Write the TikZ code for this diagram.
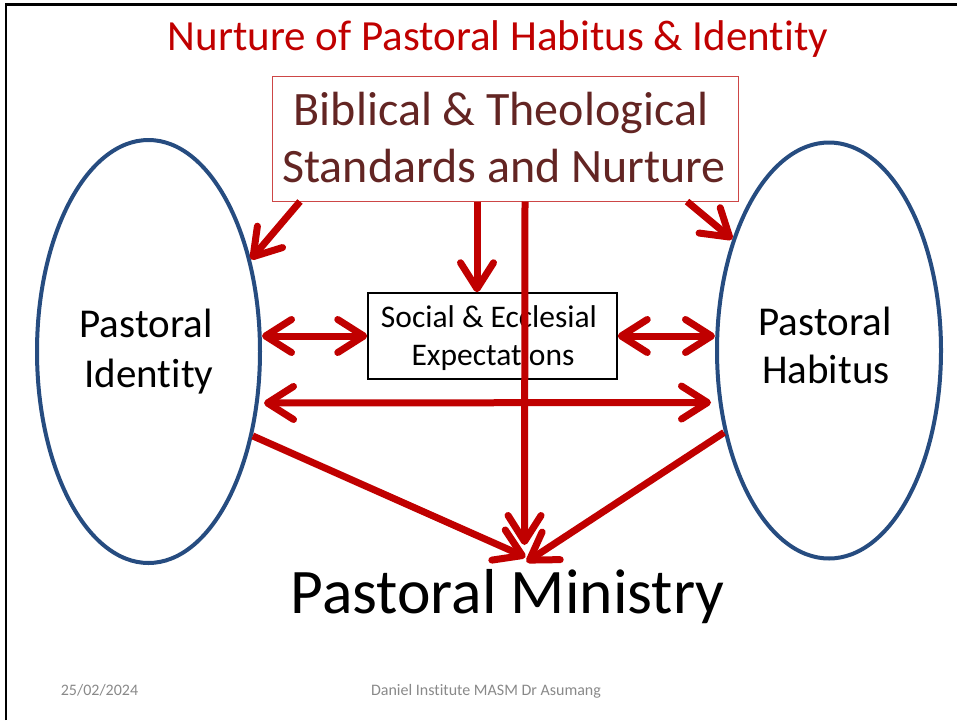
\documentclass[tikz,border=0pt]{standalone}
\usepackage{fontspec}
\setmainfont{Carlito}[Ligatures=NoCommon]
\usetikzlibrary{arrows.meta,shapes.geometric}
\definecolor{arrred}{RGB}{192,0,0}
\definecolor{titred}{RGB}{192,0,0}
\definecolor{boxred}{RGB}{205,70,70}
\definecolor{bibtext}{RGB}{99,37,35}
\definecolor{ellblue}{RGB}{38,76,128}
\definecolor{footgray}{RGB}{137,137,137}
\begin{document}
\begin{tikzpicture}[x=1pt,y=-1pt,
  txt/.style={inner sep=0pt, anchor=base},
  tip/.tip={Straight Barb[length=26pt,width=33pt,round]},
  arr/.style={draw=arrred, line width=7pt, -tip},
  dbl/.style={draw=arrred, line width=7pt, tip-tip},
  ell/.style={ellipse, draw=ellblue, line width=4pt, fill=white, inner sep=0pt},
]
\useasboundingbox (0,0) rectangle (957,720);
\draw[line width=2.5pt] (6,720) -- (6,4.5) -- (957,4.5);

\node[txt, text=titred, font=\fontsize{43}{50}\selectfont] (title) at (498,50) {Nurture of Pastoral Habitus \& Identity};

\node[draw=boxred, line width=1pt, minimum width=466pt, minimum height=125pt, inner sep=0pt] (bib) at (505,138.5) {};
\node[txt, text=bibtext, font=\fontsize{48}{57}\selectfont] (bib1) at (501,125) {Biblical \& Theological};
\node[txt, text=bibtext, font=\fontsize{48}{57}\selectfont] (bib2) at (504,182) {Standards and Nurture};

\node[ell, minimum width=223pt, minimum height=423pt] (pid) at (148.5,351.5) {};
\node[ell, minimum width=224pt, minimum height=416pt] (phb) at (829,350.5) {};
\node[txt, font=\fontsize{41}{48}\selectfont] (pid1) at (146,337) {Pastoral};
\node[txt, font=\fontsize{41}{48}\selectfont] (pid2) at (149,387) {Identity};
\node[txt, font=\fontsize{41}{48}\selectfont] (phb1) at (825,335) {Pastoral};
\node[txt, font=\fontsize{41}{48}\selectfont] (phb2) at (826,383) {Habitus};

\node[draw, line width=1.5pt, minimum width=249pt, minimum height=86pt, inner sep=0pt] (soc) at (492.5,336) {};
\node[txt, font=\fontsize{31.5}{38}\selectfont] (soc1) at (489,327) {Social \& Ecclesial};
\node[txt, font=\fontsize{31.5}{38}\selectfont] (soc2) at (493,365) {Expectations};

\node[txt, font=\fontsize{63.5}{72}\selectfont] (min) at (507.5,613) {Pastoral Ministry};

\node[txt, text=footgray, font=\fontsize{16}{19}\selectfont] (date) at (99.5,695) {25/02/2024};
\node[txt, text=footgray, font=\fontsize{16}{19}\selectfont] (auth) at (486,695) {Daniel Institute MASM Dr Asumang};

\draw[arr] ([xshift=-205pt]bib.south) -- (pid.42);
\draw[arr] ([xshift=-28pt]bib.south) -- ([xshift=-15.5pt]soc.north);
\draw[arr] ([xshift=182pt]bib.south) -- (phb.131);
\draw[dbl] (soc.west -| pid.east) -- (soc.west);
\draw[dbl] (soc.east) -- (soc.east -| phb.west);
\draw[dbl] ([shift={(2pt,-51.5pt)}]pid.east) -- ([shift={(-4pt,-52pt)}]phb.west);
\draw[arr] (pid.-39) -- ([xshift=18pt,yshift=56pt]min.base);
\draw[arr] (phb.-142) -- ([xshift=19pt,yshift=51pt]min.base);
\draw[arr] ([xshift=20pt]bib.south) -- ([xshift=17pt,yshift=68pt]min.base);
\end{tikzpicture}
\end{document}
